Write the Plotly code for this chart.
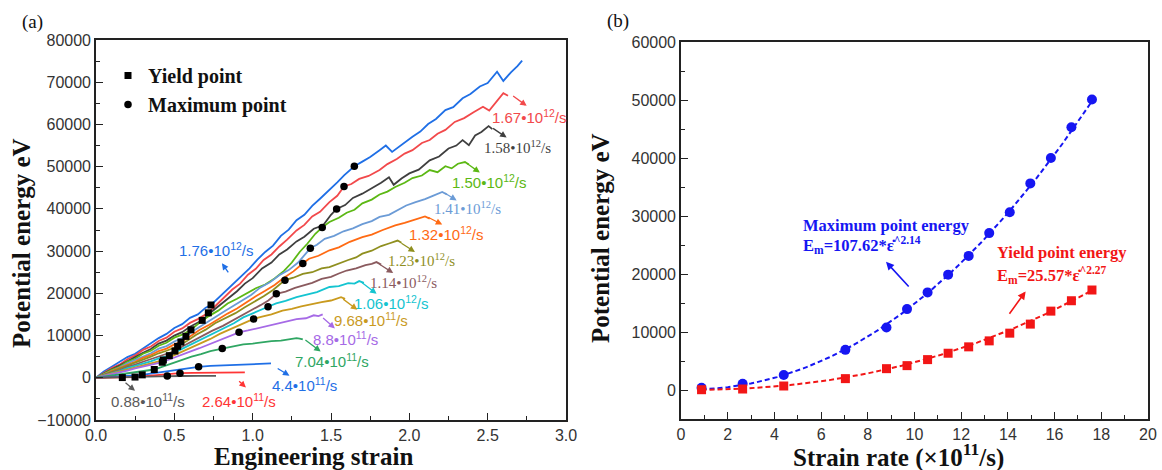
import numpy as np
import plotly.graph_objects as go

W, H = 1162, 470

# ---------------- shared data: strain rate (x10^11 /s) and characteristic energies ----------------
rate = [0.88, 2.64, 4.4, 7.04, 8.8, 9.68, 10.56, 11.44, 12.32, 13.2, 14.08, 14.96, 15.84, 16.72, 17.6]
max_energy = [400, 1090, 2590, 6920, 10770, 13950, 16830, 19890, 23120, 27050, 30660, 35620, 40000, 45300, 50090]
yield_energy = [50, 170, 690, 1960, 3680, 4200, 5240, 6340, 7440, 8470, 9800, 11360, 13600, 15390, 17240]
yield_strain = [0.168, 0.249, 0.295, 0.372, 0.423, 0.43, 0.468, 0.504, 0.521, 0.542, 0.574, 0.606, 0.678, 0.717, 0.734]
max_strain = [0.455, 0.536, 0.655, 0.806, 0.913, 1.006, 1.098, 1.151, 1.206, 1.32, 1.368, 1.444, 1.536, 1.583, 1.649]

# power-law fits E = a * rate^b
fit_max = (107.62, 2.14)
fit_yield = (25.57, 2.27)

# ---------------- potential energy vs engineering strain curves ----------------
s_176 = [0, 0.05, 0.1, 0.15, 0.2, 0.25, 0.3, 0.35, 0.4, 0.45,
         0.5, 0.55, 0.6, 0.65, 0.7, 0.734, 0.78, 0.83, 0.88, 0.93,
         0.98, 1.03, 1.08, 1.13, 1.18, 1.23, 1.28, 1.33, 1.38, 1.43,
         1.49, 1.54, 1.585, 1.649, 1.7, 1.75, 1.81, 1.85, 1.89, 1.95,
         2.02, 2.07, 2.12, 2.17, 2.23, 2.28, 2.34, 2.39, 2.45, 2.5,
         2.56, 2.6, 2.65, 2.69, 2.72]
e_176 = [0, 1500, 2600, 3700, 4900, 5700, 7000, 8300, 9400, 10400,
         11800, 12700, 14200, 15000, 16600, 17240, 18900, 20700, 22400, 24300,
         25900, 28000, 29800, 31300, 33600, 35100, 37300, 38600, 40700, 42400,
         44400, 46300, 48000, 50090, 51200, 52300, 53900, 55000, 53500, 55200,
         57100, 58300, 60100, 61300, 63400, 64100, 66200, 67200, 69000, 69800,
         72500, 70300, 72400, 73800, 75100]

s_167 = [0, 0.05, 0.1, 0.15, 0.2, 0.25, 0.3, 0.35, 0.4, 0.45,
         0.5, 0.55, 0.6, 0.65, 0.717, 0.77, 0.82, 0.87, 0.92, 0.97,
         1.02, 1.07, 1.12, 1.17, 1.22, 1.28, 1.33, 1.38, 1.43, 1.49,
         1.54, 1.583, 1.63, 1.68, 1.74, 1.81, 1.86, 1.92, 1.97, 2.02,
         2.08, 2.13, 2.18, 2.23, 2.29, 2.35, 2.41, 2.47, 2.51, 2.56,
         2.6, 2.63]
e_167 = [0, 1200, 2300, 3100, 4400, 5300, 6600, 7400, 8700, 9500,
         10900, 11700, 13000, 13900, 15390, 17300, 19000, 20900, 22300, 24400,
         25800, 27900, 29200, 31100, 32700, 34900, 36200, 38200, 39300, 41600,
         43100, 45300, 45900, 47100, 47800, 49200, 50600, 51800, 53100, 53900,
         55600, 56300, 57800, 58700, 60600, 61500, 62900, 64200, 63300, 65600,
         67400, 66800]

s_158 = [0, 0.05, 0.1, 0.15, 0.2, 0.25, 0.3, 0.35, 0.4, 0.45,
         0.5, 0.55, 0.6, 0.678, 0.73, 0.78, 0.84, 0.9, 0.95, 1.0,
         1.06, 1.12, 1.17, 1.22, 1.28, 1.33, 1.39, 1.45, 1.5, 1.536,
         1.59, 1.64, 1.7, 1.76, 1.82, 1.87, 1.9, 1.95, 2.0, 2.06,
         2.13, 2.19, 2.25, 2.3, 2.34, 2.38, 2.42, 2.46, 2.506, 2.53]
e_158 = [0, 1100, 2000, 2900, 4000, 4900, 5900, 6800, 8100, 8800,
         10000, 10800, 12100, 13600, 15400, 16900, 18900, 20500, 22300, 23600,
         25900, 27300, 29200, 30400, 32300, 33400, 35300, 36100, 38600, 40000,
         40900, 42600, 43600, 44900, 46200, 47500, 45700, 47200, 48400, 49300,
         51500, 52400, 54300, 55000, 56300, 55100, 57400, 58200, 59600, 58900]

s_150 = [0, 0.05, 0.1, 0.15, 0.2, 0.25, 0.3, 0.35, 0.4, 0.45,
         0.5, 0.55, 0.606, 0.66, 0.72, 0.78, 0.84, 0.9, 0.96, 1.02,
         1.08, 1.14, 1.2, 1.25, 1.3, 1.35, 1.4, 1.444, 1.49, 1.55,
         1.6, 1.65, 1.7, 1.76, 1.81, 1.86, 1.91, 1.97, 2.02, 2.08,
         2.13, 2.18, 2.23, 2.27, 2.31, 2.355, 2.38]
e_150 = [0, 900, 1900, 2600, 3800, 4500, 5700, 6400, 7600, 8300,
         9500, 10200, 11360, 13000, 14600, 15900, 17600, 18700, 19900, 21200,
         22100, 23500, 25300, 27300, 29800, 31800, 34100, 35620, 36900, 37900,
         39100, 39800, 41300, 42200, 43400, 44100, 45200, 46200, 47300, 47900,
         49200, 48700, 50100, 49600, 50700, 51100, 50500]

s_141 = [0, 0.05, 0.1, 0.15, 0.2, 0.25, 0.3, 0.35, 0.4, 0.45,
         0.5, 0.574, 0.63, 0.69, 0.75, 0.81, 0.87, 0.93, 0.99, 1.05,
         1.11, 1.17, 1.23, 1.29, 1.33, 1.368, 1.41, 1.46, 1.52, 1.58,
         1.64, 1.7, 1.76, 1.81, 1.87, 1.93, 1.98, 2.04, 2.1, 2.15,
         2.21, 2.24]
e_141 = [0, 800, 1700, 2400, 3400, 4200, 5100, 5800, 6900, 7500,
         8600, 9800, 11300, 12600, 14100, 15500, 16800, 18300, 19600, 21400,
         22600, 24300, 25500, 27300, 29000, 30660, 31500, 32900, 33600, 34700,
         35400, 36400, 37100, 38100, 38600, 39900, 40800, 41600, 42300, 43100,
         44000, 43400]

s_132 = [0, 0.05, 0.1, 0.15, 0.2, 0.25, 0.3, 0.35, 0.4, 0.45,
         0.5, 0.542, 0.6, 0.66, 0.72, 0.78, 0.84, 0.9, 0.96, 1.02,
         1.08, 1.14, 1.2, 1.26, 1.32, 1.36, 1.42, 1.49, 1.55, 1.62,
         1.7, 1.76, 1.83, 1.91, 1.97, 2.03, 2.1, 2.13]
e_132 = [0, 700, 1600, 2300, 3100, 3800, 4700, 5400, 6300, 6900,
         7900, 8470, 9800, 11300, 12500, 13900, 15200, 16400, 17900, 19300,
         20600, 22000, 23700, 25200, 27050, 28200, 28900, 30200, 30900, 32200,
         33300, 33900, 35000, 36100, 36700, 37400, 38200, 37700]

s_123 = [0, 0.05, 0.1, 0.15, 0.2, 0.25, 0.3, 0.35, 0.4, 0.45,
         0.521, 0.58, 0.64, 0.7, 0.76, 0.82, 0.89, 0.95, 1.01, 1.07,
         1.13, 1.206, 1.26, 1.32, 1.38, 1.44, 1.49, 1.55, 1.61, 1.66,
         1.7, 1.76, 1.82, 1.87, 1.925, 1.95]
e_123 = [0, 700, 1400, 2100, 2900, 3500, 4300, 5000, 5800, 6400,
         7440, 8700, 10200, 11400, 12900, 14000, 15300, 16700, 17900, 19300,
         20800, 23120, 23700, 24600, 25000, 25900, 26200, 27100, 27900, 28500,
         29400, 30100, 31200, 31800, 32500, 32000]

s_114 = [0, 0.05, 0.1, 0.15, 0.2, 0.25, 0.3, 0.35, 0.4, 0.45,
         0.504, 0.56, 0.62, 0.68, 0.74, 0.81, 0.87, 0.93, 0.99, 1.05,
         1.1, 1.151, 1.21, 1.27, 1.33, 1.38, 1.44, 1.5, 1.55, 1.6,
         1.66, 1.72, 1.76, 1.79, 1.82]
e_114 = [0, 600, 1300, 1800, 2600, 3100, 3800, 4400, 5100, 5600,
         6340, 7600, 8800, 10000, 11100, 12300, 13600, 14700, 16000, 17200,
         18300, 19890, 20400, 21300, 21900, 22500, 23400, 23900, 24700, 25400,
         25900, 26700, 27000, 27400, 26800]

s_106 = [0, 0.05, 0.1, 0.15, 0.2, 0.25, 0.3, 0.35, 0.4, 0.468,
         0.53, 0.59, 0.65, 0.7, 0.76, 0.82, 0.88, 0.94, 1.0, 1.05,
         1.098, 1.15, 1.21, 1.28, 1.34, 1.41, 1.49, 1.55, 1.61, 1.65,
         1.68, 1.71]
e_106 = [0, 500, 1100, 1600, 2300, 2800, 3400, 3900, 4600, 5240,
         6500, 7600, 8800, 9600, 10800, 11900, 12900, 14300, 15300, 16100,
         16830, 17600, 18200, 19100, 19700, 20300, 21500, 21700, 22400, 22300,
         22900, 22500]

s_968 = [0, 0.05, 0.1, 0.15, 0.2, 0.25, 0.3, 0.35, 0.43, 0.49,
         0.55, 0.61, 0.67, 0.73, 0.79, 0.85, 0.91, 0.96, 1.006, 1.06,
         1.12, 1.19, 1.25, 1.31, 1.38, 1.44, 1.5, 1.53, 1.564, 1.59]
e_968 = [0, 500, 900, 1500, 1900, 2500, 2900, 3500, 4200, 5200,
         6200, 7300, 8300, 9200, 10400, 11400, 12300, 13200, 13950, 14500,
         15000, 15900, 16300, 16900, 17500, 17900, 18300, 18700, 19100, 18700]

s_880 = [0, 0.05, 0.1, 0.15, 0.2, 0.25, 0.3, 0.36, 0.423, 0.48,
         0.54, 0.6, 0.66, 0.72, 0.78, 0.84, 0.913, 0.97, 1.03, 1.09,
         1.15, 1.21, 1.28, 1.34, 1.39, 1.42, 1.447]
e_880 = [0, 400, 900, 1300, 1700, 2200, 2600, 3100, 3680, 4500,
         5400, 6200, 7000, 7900, 8800, 9600, 10770, 11200, 11700, 12300,
         12800, 13300, 13900, 14100, 14800, 14600, 15000]

s_704 = [0, 0.06, 0.12, 0.18, 0.24, 0.3, 0.372, 0.43, 0.49, 0.55,
         0.61, 0.67, 0.73, 0.806, 0.87, 0.94, 1.0, 1.06, 1.12, 1.18,
         1.24, 1.28, 1.3, 1.32]
e_704 = [0, 300, 600, 900, 1300, 1600, 1960, 2700, 3500, 4300,
         5000, 5600, 6300, 6920, 7400, 7900, 8100, 8400, 8700, 8800,
         9200, 9400, 9300, 9100]

s_440 = [0, 0.08, 0.16, 0.24, 0.295, 0.37, 0.44, 0.51, 0.58, 0.655,
         0.73, 0.8, 0.87, 0.94, 1.01, 1.07, 1.1, 1.117]
e_440 = [0, 150, 350, 550, 690, 1100, 1500, 1900, 2200, 2590,
         2800, 2900, 3000, 3200, 3300, 3400, 3500, 3400]

s_264 = [0, 0.1, 0.249, 0.33, 0.41, 0.48, 0.536, 0.62, 0.7, 0.78, 0.86, 0.95]
e_264 = [0, 50, 170, 450, 700, 900, 1090, 1150, 1180, 1200, 1250, 1270]

s_088 = [0, 0.168, 0.25, 0.33, 0.4, 0.455, 0.55, 0.65, 0.766]
e_088 = [0, 50, 150, 250, 330, 400, 420, 430, 450]

curve_labels = ["1.76•10<sup>12</sup>/s", "1.67•10<sup>12</sup>/s", "1.58•10<sup>12</sup>/s",
                "1.50•10<sup>12</sup>/s", "1.41•10<sup>12</sup>/s", "1.32•10<sup>12</sup>/s",
                "1.23•10<sup>12</sup>/s", "1.14•10<sup>12</sup>/s", "1.06•10<sup>12</sup>/s",
                "9.68•10<sup>11</sup>/s", "8.8•10<sup>11</sup>/s", "7.04•10<sup>11</sup>/s",
                "4.4•10<sup>11</sup>/s", "2.64•10<sup>11</sup>/s", "0.88•10<sup>11</sup>/s"]

curves = [(s_176, e_176), (s_167, e_167), (s_158, e_158), (s_150, e_150), (s_141, e_141),
          (s_132, e_132), (s_123, e_123), (s_114, e_114), (s_106, e_106), (s_968, e_968),
          (s_880, e_880), (s_704, e_704), (s_440, e_440), (s_264, e_264), (s_088, e_088)]

# ---------------- styling ----------------
curve_colors = ["#1f6fe6", "#f2494b", "#3f3f3f", "#5cb814", "#6b9bd6", "#ff6a13", "#8f8f1f",
                "#8a5a5e", "#14c4d0", "#c99a1e", "#a66ae6", "#2fa663", "#1f6fe6", "#ff3535", "#5a5a5a"]
SANS = "Liberation Sans, Arial, sans-serif"
SERIF = "Liberation Serif, Times New Roman, serif"
label_fonts = [SANS, SANS, SERIF, SANS, SERIF, SANS, SERIF, SERIF, SANS, SANS, SANS, SANS, SANS, SANS, SANS]
# label centre (strain, energy), arrow tail and arrow head in data units
label_pos = [(0.766, 30400), (2.768, 61800), (2.689, 54700), (2.514, 46400), (2.37, 40100),
             (2.238, 34100), (2.078, 28000), (1.961, 22600), (1.887, 17900), (1.753, 13700),
             (1.595, 9200), (1.504, 4000), (1.334, -1700), (0.911, -5300), (0.334, -5300)]
arrow_tail = [(0.851, 24600), (2.653, 67000), (2.525, 59300), (2.359, 51000), (2.216, 44000),
              (2.11, 38200), (1.94, 32100), (1.80, 27100), (1.685, 22900), (1.568, 18900),
              (1.44, 14500), (1.327, 9200), (1.15, 2400), (0.904, -500), (0.179, -900)]
arrow_head = [(0.804, 27100), (2.749, 64400), (2.621, 56900), (2.45, 48600), (2.302, 42000),
              (2.21, 36300), (2.036, 29800), (1.897, 24800), (1.791, 19900), (1.668, 16100),
              (1.525, 11700), (1.434, 6200), (1.235, 500), (0.957, -2300), (0.249, -3100)]

BLUE = "#1616f2"
RED = "#f21616"
AXIS_COL = "#222222"
TICK_FONT = dict(family=SANS, size=16, color="#333333")


def px(x):
    return x / W


def py(y):
    return 1 - y / H


fig = go.Figure()

# (a) strain-energy curves
for (s, e), col in zip(curves, curve_colors):
    fig.add_trace(go.Scatter(x=s, y=e, mode="lines", line=dict(color=col, width=1.8),
                             showlegend=False, hoverinfo="skip", xaxis="x", yaxis="y"))

fig.add_trace(go.Scatter(x=yield_strain, y=yield_energy, mode="markers",
                         marker=dict(symbol="square", size=7, color="black"),
                         name="<b>Yield point</b>", xaxis="x", yaxis="y"))
fig.add_trace(go.Scatter(x=max_strain, y=max_energy, mode="markers",
                         marker=dict(symbol="circle", size=7.5, color="black"),
                         name="<b>Maximum point</b>", xaxis="x", yaxis="y"))

# (b) characteristic energies vs strain rate, with power-law fits
rate_fine = np.linspace(rate[0], rate[-1], 120)
fig.add_trace(go.Scatter(x=rate_fine, y=fit_max[0] * rate_fine ** fit_max[1], mode="lines",
                         line=dict(color=BLUE, width=2, dash="5px,3px"), showlegend=False,
                         xaxis="x2", yaxis="y2"))
fig.add_trace(go.Scatter(x=rate_fine, y=fit_yield[0] * rate_fine ** fit_yield[1], mode="lines",
                         line=dict(color=RED, width=2, dash="5px,3px"), showlegend=False,
                         xaxis="x2", yaxis="y2"))
fig.add_trace(go.Scatter(x=rate, y=max_energy, mode="markers",
                         marker=dict(symbol="circle", size=10, color=BLUE), showlegend=False,
                         xaxis="x2", yaxis="y2"))
fig.add_trace(go.Scatter(x=rate, y=yield_energy, mode="markers",
                         marker=dict(symbol="square", size=9, color=RED), showlegend=False,
                         xaxis="x2", yaxis="y2"))

annotations = []
# rate labels and arrows in (a)
for txt, col, fam, (lx, ly), (tx, ty), (hx, hy) in zip(curve_labels, curve_colors, label_fonts,
                                                        label_pos, arrow_tail, arrow_head):
    annotations.append(dict(x=lx, y=ly, xref="x", yref="y", text=txt, showarrow=False,
                            xanchor="center", yanchor="middle",
                            font=dict(family=fam, size=15, color=col)))
    annotations.append(dict(x=hx, y=hy, ax=tx, ay=ty, xref="x", yref="y", axref="x", ayref="y",
                            text="", showarrow=True, arrowhead=2, arrowsize=1, arrowwidth=1.3,
                            arrowcolor=col, standoff=0, startstandoff=0))

# fit annotations in (b)
FIT_FONT = 16.5
annotations += [
    dict(x=5.13, y=28360, xref="x2", yref="y2", xanchor="left", yanchor="middle", showarrow=False,
         text="<b>Maximum point energy</b>", font=dict(family=SERIF, size=FIT_FONT, color=BLUE)),
    dict(x=5.13, y=25000, xref="x2", yref="y2", xanchor="left", yanchor="middle", showarrow=False,
         text="<b>E<sub>m</sub>=107.62*ε̇<sup>^2.14</sup></b>",
         font=dict(family=SERIF, size=FIT_FONT, color=BLUE)),
    dict(x=8.78, y=22100, ax=9.81, ay=17600, xref="x2", yref="y2", axref="x2", ayref="y2",
         text="", showarrow=True, arrowhead=2, arrowsize=1, arrowwidth=1.6, arrowcolor=BLUE,
         standoff=0),
    dict(x=13.45, y=23740, xref="x2", yref="y2", xanchor="left", yanchor="middle", showarrow=False,
         text="<b>Yield point energy</b>", font=dict(family=SERIF, size=FIT_FONT, color=RED)),
    dict(x=13.45, y=19900, xref="x2", yref="y2", xanchor="left", yanchor="middle", showarrow=False,
         text="<b>E<sub>m</sub>=25.57*ε̇<sup>^2.27</sup></b>",
         font=dict(family=SERIF, size=FIT_FONT, color=RED)),
    dict(x=14.76, y=17000, ax=14.02, ay=12900, xref="x2", yref="y2", axref="x2", ayref="y2",
         text="", showarrow=True, arrowhead=2, arrowsize=1, arrowwidth=1.6, arrowcolor=RED,
         standoff=0),
]

# panel tags and axis titles
TITLE_FONT = dict(family=SERIF, size=25, color="#111111")
CENTER = dict(xref="paper", yref="paper", xanchor="center", yanchor="middle", showarrow=False)
annotations += [
    dict(x=px(32), y=py(22), text="(a)", font=dict(family=SERIF, size=19, color="#111111"), **CENTER),
    dict(x=px(618), y=py(21), text="(b)", font=dict(family=SERIF, size=19, color="#111111"), **CENTER),
    dict(x=px(21), y=py(243), text="<b>Potential energy eV</b>", textangle=-90, font=TITLE_FONT,
         **CENTER),
    dict(x=px(313), y=py(456), text="<b>Engineering strain</b>", font=TITLE_FONT, **CENTER),
    dict(x=px(601), y=py(238), text="<b>Potential energy eV</b>", textangle=-90, font=TITLE_FONT,
         **CENTER),
    dict(x=px(898), y=py(455), text="<b>Strain rate (×10<sup>11</sup>/s)</b>", font=TITLE_FONT,
         **CENTER),
]


def axis_style(**kw):
    base = dict(showline=True, linecolor=AXIS_COL, linewidth=1.6, mirror=True,
                ticks="inside", ticklen=7, tickwidth=1.4, tickcolor=AXIS_COL,
                showgrid=False, zeroline=False, tickfont=TICK_FONT, automargin=False,
                fixedrange=True)
    base.update(kw)
    return base


fig.update_layout(
    width=W, height=H,
    margin=dict(l=0, r=0, t=0, b=0),
    paper_bgcolor="white", plot_bgcolor="white",
    xaxis=axis_style(domain=[px(96), px(566)], range=[0, 3], dtick=0.5, tick0=0,
                     tickformat=".1f", anchor="y",
                     minor=dict(dtick=0.25, ticklen=4, ticks="inside", tickcolor=AXIS_COL)),
    yaxis=axis_style(domain=[py(420), py(40)], range=[-10000, 80000], dtick=10000, tick0=0,
                     tickformat="d", anchor="x",
                     minor=dict(dtick=5000, ticklen=4, ticks="inside", tickcolor=AXIS_COL)),
    xaxis2=axis_style(domain=[px(681), px(1148)], range=[0, 20], dtick=2, tick0=0, anchor="y2",
                      tickformat="d",
                      minor=dict(dtick=1, ticklen=4, ticks="inside", tickcolor=AXIS_COL)),
    yaxis2=axis_style(domain=[py(419), py(42)], range=[-5000, 60000], dtick=10000, tick0=0,
                      tickformat="d", anchor="x2",
                      minor=dict(dtick=5000, ticklen=4, ticks="inside", tickcolor=AXIS_COL)),
    legend=dict(x=px(108), y=py(56), xanchor="left", yanchor="top",
                bgcolor="rgba(0,0,0,0)", borderwidth=0,
                font=dict(family=SERIF, size=20, color="#111111"),
                itemclick=False, itemdoubleclick=False),
    annotations=annotations,
    showlegend=True,
)

fig.write_html("out.html")
